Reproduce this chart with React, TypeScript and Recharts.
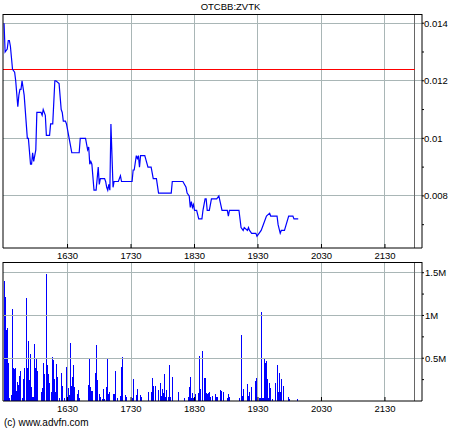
import { LineChart, Line, BarChart, Bar, XAxis, YAxis, ReferenceLine } from "recharts"

const TITLE = "OTCBB:ZVTK"
const COPYRIGHT = "(c) www.advfn.com"

// trade times in minutes after midnight, prices in USD
const priceTimes = [
  930, 931, 933, 934, 935, 936, 937, 938, 940, 941, 943, 944, 945, 946, 947, 949, 952, 953, 955, 956,
  957, 958, 960, 961, 965, 966, 967, 969, 970, 973, 974, 976, 978, 979, 982, 984, 985, 986, 988, 989,
  991, 992, 994, 1001, 1002, 1007, 1009, 1010, 1011, 1012, 1013, 1015, 1017, 1019, 1020, 1021, 1025, 1026, 1027, 1028,
  1029, 1030, 1031, 1032, 1033, 1034, 1038, 1040, 1041, 1051, 1052, 1053, 1055, 1056, 1057, 1058, 1059, 1063, 1066, 1069,
  1071, 1074, 1076, 1077, 1088, 1089, 1099, 1102, 1103, 1105, 1106, 1107, 1108, 1109, 1110, 1112, 1114, 1115, 1117, 1118,
  1120, 1121, 1122, 1124, 1126, 1131, 1133, 1136, 1141, 1142, 1143, 1152, 1154, 1156, 1157, 1160, 1161, 1162, 1164, 1168,
  1169, 1171, 1173, 1175, 1178, 1181, 1182, 1188, 1189, 1191, 1192, 1195, 1199, 1203, 1204, 1208,
]
const prices = [
  0.014, 0.013, 0.0131, 0.0134, 0.0134, 0.0132, 0.0128, 0.0124, 0.0123, 0.012, 0.0111, 0.0115, 0.0117, 0.0117, 0.012, 0.0115, 0.01, 0.01, 0.0091, 0.0091,
  0.0095, 0.0092, 0.0096, 0.0109, 0.0109, 0.0108, 0.011, 0.0108, 0.0101, 0.0101, 0.0105, 0.0105, 0.012, 0.012, 0.0119, 0.011, 0.0109, 0.0106, 0.0106, 0.0105,
  0.0101, 0.0099, 0.0095, 0.0095, 0.01, 0.01, 0.0096, 0.0097, 0.0091, 0.0092, 0.0091, 0.0082, 0.0082, 0.009, 0.0084, 0.0086, 0.0086, 0.0085, 0.0083, 0.0082,
  0.0084, 0.0082, 0.0105, 0.0094, 0.0083, 0.0085, 0.0085, 0.0087, 0.0085, 0.0085, 0.0089, 0.0089, 0.0094, 0.0093, 0.0094, 0.009, 0.0094, 0.0094, 0.009, 0.009,
  0.0086, 0.0086, 0.0081, 0.0081, 0.0081, 0.0085, 0.0085, 0.0083, 0.0081, 0.008, 0.0076, 0.0078, 0.0076, 0.0077, 0.0075, 0.0075, 0.0072, 0.0072, 0.0072, 0.0075,
  0.0079, 0.0079, 0.0075, 0.0075, 0.0079, 0.0079, 0.008, 0.0075, 0.0075, 0.0073, 0.0075, 0.0075, 0.0069, 0.0068, 0.0069, 0.0068, 0.0069, 0.0068, 0.0067, 0.0067,
  0.0066, 0.0067, 0.0068, 0.007, 0.0073, 0.0074, 0.0073, 0.0073, 0.007, 0.0067, 0.0068, 0.0068, 0.0073, 0.0073, 0.0072, 0.0072,
]

// volume per minute, millions of shares
const volumeTimes = [
  930, 931, 932, 933, 934, 935, 937, 938, 939, 940, 941, 942, 943, 944, 945, 946, 947, 948, 949, 951,
  952, 953, 954, 955, 956, 957, 958, 959, 960, 961, 962, 965, 966, 967, 968, 970, 971, 972, 973, 975,
  976, 977, 978, 979, 980, 981, 982, 984, 985, 987, 989, 990, 991, 992, 993, 994, 995, 996, 997, 999,
  1000, 1001, 1010, 1011, 1012, 1013, 1014, 1016, 1017, 1018, 1020, 1021, 1023, 1024, 1025, 1027, 1028, 1029, 1030, 1033,
  1034, 1035, 1037, 1040, 1041, 1042, 1045, 1046, 1051, 1052, 1055, 1056, 1059, 1060, 1067, 1069, 1070, 1071, 1073, 1076,
  1078, 1079, 1080, 1081, 1082, 1083, 1084, 1085, 1086, 1087, 1089, 1095, 1101, 1104, 1105, 1106, 1107, 1108, 1109, 1110,
  1111, 1114, 1115, 1116, 1118, 1119, 1120, 1121, 1122, 1123, 1124, 1125, 1127, 1130, 1131, 1132, 1135, 1136, 1137, 1141,
  1142, 1143, 1153, 1154, 1155, 1156, 1160, 1161, 1162, 1164, 1168, 1169, 1170, 1171, 1172, 1173, 1174, 1175, 1176, 1177,
  1178, 1179, 1180, 1181, 1182, 1184, 1187, 1188, 1189, 1190, 1191, 1192, 1194, 1199, 1200, 1207,
]
const volumes = [
  1.4, 1.21, 0.83, 0.85, 0.44, 0.03, 0.07, 1.07, 0.38, 0.37, 0.38, 0.12, 0.22, 0.19, 0.29, 0.35, 0.03, 0.26, 0.39, 1.2,
  0.38, 0.7, 0.24, 0.55, 0.16, 0.05, 0.05, 0.67, 0.39, 0.5, 0.35, 0.1, 0.15, 0.44, 0.32, 1.48, 0.42, 0.32, 0.21, 0.1,
  0.51, 0.48, 0.26, 0.1, 0.43, 0.28, 0.03, 0.33, 0.18, 0.03, 0.4, 0.07, 0.15, 0.07, 0.68, 0.18, 0.28, 0.42, 0.16, 0.08,
  0.13, 0.04, 0.19, 0.5, 0.16, 0.12, 0.12, 0.33, 0.66, 0.24, 0.08, 0.05, 0.02, 0.14, 0.02, 0.16, 0.5, 0.08, 0.1, 0.08,
  0.08, 0.35, 0.03, 0.06, 0.4, 0.51, 0.07, 0.05, 0.04, 0.26, 0.07, 0.14, 0.07, 0.05, 0.1, 0.1, 0.27, 0.18, 0.18, 0.13,
  0.21, 0.06, 0.14, 0.09, 0.31, 0.05, 0.13, 0.05, 0.42, 0.05, 0.28, 0.1, 0.03, 0.05, 0.16, 0.28, 0.04, 0.09, 0.04, 0.04,
  0.08, 0.09, 0.53, 0.14, 0.58, 0.27, 0.27, 0.09, 0.08, 0.09, 0.11, 0.05, 0.06, 0.08, 0.05, 0.05, 0.13, 0.12, 0.1, 0.03,
  0.08, 0.05, 0.04, 0.77, 0.06, 0.14, 0.2, 0.06, 0.11, 0.16, 0.23, 0.27, 0.09, 0.03, 0.04, 1.04, 0.04, 0.04, 0.5, 0.45,
  0.47, 0.26, 0.03, 0.21, 0.15, 0.02, 0.21, 0.42, 0.1, 0.33, 0.1, 0.26, 0.18, 0.05, 0.02, 0.02,
]

const hourTicks = [990, 1050, 1110, 1170, 1230, 1290]
const priceTicks = [0.007, 0.008, 0.009, 0.01, 0.011, 0.012, 0.013, 0.014]
const priceGrid = [0.008, 0.01, 0.012, 0.014]
const volumeTicks = [0.25, 0.5, 0.75, 1, 1.25, 1.5]
const volumeGrid = [0.5, 1, 1.5]
const prevClose = 0.0124
const sessionEnd = 1318

const timeDomain = [929, 1325]
const priceDomain = [0.00619, 0.01432]
const volumeDomain = [0, 1.625]

const priceData = priceTimes.map((t, i) => ({ t, price: prices[i] }))
const volumeData = volumeTimes.map((t, i) => ({ t, vol: volumes[i] }))

const FONT = "'Liberation Sans', Arial, sans-serif"
const GRID = "#a9b6b6"
const tickStyle = { fontSize: 9.5, fill: "#000", fontFamily: FONT }

const fmtTime = (t: number) => `${Math.floor(t / 60)}${String(t % 60).padStart(2, "0")}`
const fmtPrice = (v: number) => (Math.round(v * 1000) % 2 === 0 ? String(+v.toFixed(3)) : "")
const fmtVol = (v: number) => (Math.round(v * 100) % 50 === 0 ? `${v}M` : "")

const timeAxisProps = {
  dataKey: "t",
  type: "number" as const,
  domain: timeDomain,
  ticks: hourTicks,
  tickFormatter: fmtTime,
  allowDataOverflow: true,
  stroke: "#000",
  tickSize: -4,
  tickMargin: 8,
  tick: tickStyle,
}

export default function App() {
  return (
    <div style={{ position: "absolute", left: 0, top: 0, width: 460, height: 430, background: "#fff", fontFamily: FONT }}>
      <div style={{ position: "absolute", left: 0, top: 1, width: 461, textAlign: "center", fontSize: 9.5 }}>{TITLE}</div>

      <div style={{ position: "absolute", left: 0, top: 0 }}>
        <LineChart width={460} height={262} data={priceData} margin={{ top: 14, right: 0, bottom: 0, left: 0 }}>
          <XAxis {...timeAxisProps} height={14} />
          <YAxis yAxisId="l" orientation="left" width={3} domain={priceDomain} ticks={priceTicks} tick={false} tickSize={-2} stroke="#000" allowDataOverflow />
          <YAxis
            yAxisId="r"
            orientation="right"
            width={38}
            domain={priceDomain}
            ticks={priceTicks}
            tickFormatter={fmtPrice}
            tickSize={2}
            tickMargin={0}
            tick={tickStyle}
            stroke="#000"
            allowDataOverflow
          />
          {priceGrid.map((v) => (
            <ReferenceLine key={v} yAxisId="r" y={v} stroke={GRID} shapeRendering="crispEdges" />
          ))}
          {hourTicks.map((t) => (
            <ReferenceLine key={t} yAxisId="r" x={t} stroke={GRID} shapeRendering="crispEdges" />
          ))}
          <ReferenceLine yAxisId="r" x={sessionEnd} stroke="#666" shapeRendering="crispEdges" />
          <ReferenceLine
            yAxisId="r"
            segment={[
              { x: timeDomain[0], y: prevClose },
              { x: sessionEnd, y: prevClose },
            ]}
            stroke="#ff0000"
            shapeRendering="crispEdges"
          />
          <ReferenceLine yAxisId="r" y={priceDomain[1]} stroke="#000" shapeRendering="crispEdges" />
          <Line yAxisId="r" dataKey="price" type="linear" stroke="#0000ff" strokeWidth={1.2} dot={false} isAnimationActive={false} />
        </LineChart>
      </div>

      <div style={{ position: "absolute", left: 0, top: 248 }}>
        <BarChart width={460} height={182} data={volumeData} margin={{ top: 14, right: 0, bottom: 0, left: 0 }}>
          <XAxis {...timeAxisProps} height={29} />
          <YAxis yAxisId="l" orientation="left" width={3} domain={volumeDomain} ticks={volumeTicks} tick={false} tickSize={-2} stroke="#000" allowDataOverflow />
          <YAxis
            yAxisId="r"
            orientation="right"
            width={38}
            domain={volumeDomain}
            ticks={volumeTicks}
            tickFormatter={fmtVol}
            tickSize={2}
            tickMargin={1}
            tick={tickStyle}
            stroke="#000"
            allowDataOverflow
          />
          {volumeGrid.map((v) => (
            <ReferenceLine key={v} yAxisId="r" y={v} stroke={GRID} shapeRendering="crispEdges" />
          ))}
          {hourTicks.map((t) => (
            <ReferenceLine key={t} yAxisId="r" x={t} stroke={GRID} shapeRendering="crispEdges" />
          ))}
          <ReferenceLine yAxisId="r" x={sessionEnd} stroke="#666" shapeRendering="crispEdges" />
          <ReferenceLine yAxisId="r" y={volumeDomain[1]} stroke="#000" shapeRendering="crispEdges" />
          <Bar yAxisId="r" dataKey="vol" fill="#0000ff" barSize={1} shapeRendering="crispEdges" isAnimationActive={false} />
        </BarChart>
      </div>

      <div style={{ position: "absolute", left: 4, top: 417, fontSize: 10 }}>{COPYRIGHT}</div>
    </div>
  )
}
